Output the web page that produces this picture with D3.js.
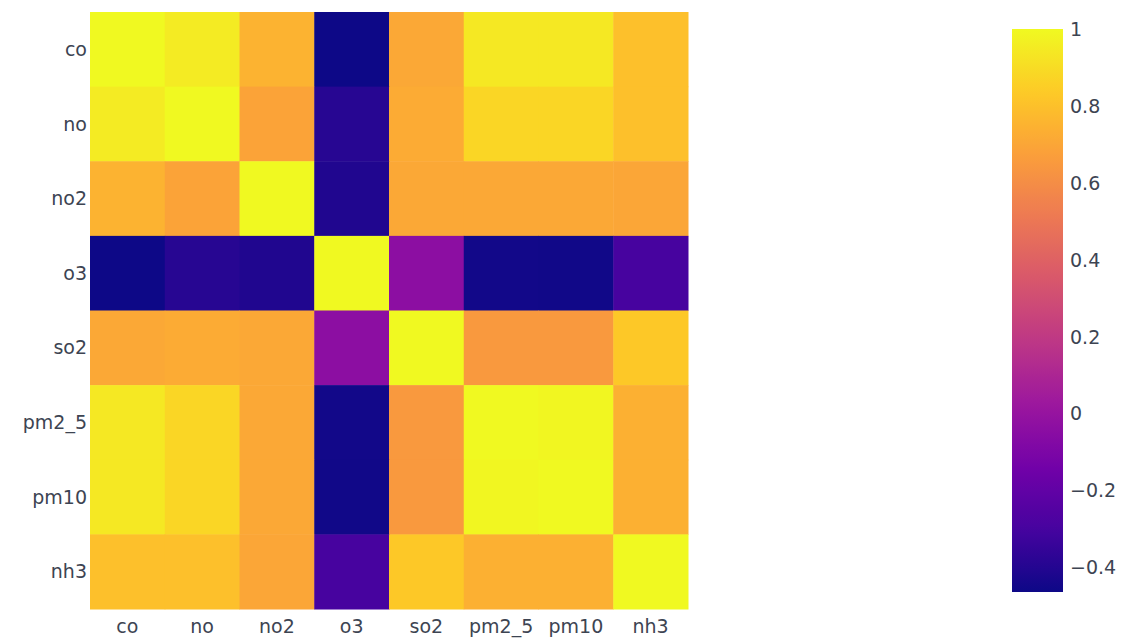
<!DOCTYPE html>
<html>
<head>
<meta charset="utf-8">
<script src="https://cdn.jsdelivr.net/npm/d3@7"></script>
<style>
  html, body { margin: 0; padding: 0; background: #fff; }
  svg { display: block; }
  text { font-family: "DejaVu Sans", Verdana, sans-serif; fill: #3d4452; }
</style>
</head>
<body>
<svg id="chart" width="1135" height="639"></svg>
<script>
// ---- data ----
const variables = ["co", "no", "no2", "o3", "so2", "pm2_5", "pm10", "nh3"];
const rowCo   = [1.00, 0.95, 0.75, -0.465, 0.71, 0.94, 0.94, 0.80];
const rowNo   = [0.95, 1.00, 0.69, -0.39, 0.72, 0.88, 0.88, 0.80];
const rowNo2  = [0.75, 0.69, 1.00, -0.41, 0.71, 0.71, 0.71, 0.70];
const rowO3   = [-0.465, -0.39, -0.41, 1.00, -0.04, -0.45, -0.455, -0.30];
const rowSo2  = [0.71, 0.72, 0.71, -0.04, 1.00, 0.65, 0.65, 0.83];
const rowPm25 = [0.94, 0.88, 0.71, -0.45, 0.65, 1.00, 0.99, 0.74];
const rowPm10 = [0.94, 0.88, 0.71, -0.455, 0.65, 0.99, 1.00, 0.74];
const rowNh3  = [0.80, 0.80, 0.70, -0.30, 0.83, 0.74, 0.74, 1.00];
const matrix = [rowCo, rowNo, rowNo2, rowO3, rowSo2, rowPm25, rowPm10, rowNh3];
const colorbarTicks = [-0.4, -0.2, 0, 0.2, 0.4, 0.6, 0.8, 1];
const zMin = -0.465, zMax = 1.0;

// Plotly "Plasma" colorscale
const plasmaStops = ["#0d0887", "#46039f", "#7201a8", "#9c179e", "#bd3786",
                     "#d8576b", "#ed7953", "#fb9f3a", "#fdca26", "#f0f921"];

// ---- layout ----
const svg = d3.select("#chart");
const plot = { left: 90, top: 12, right: 688, bottom: 609 };
const cbar = { left: 1012, right: 1063, top: 29, bottom: 592 };

const interp = d3.piecewise(d3.interpolateRgb, plasmaStops);
const color = d3.scaleSequential(interp).domain([zMin, zMax]);

const x = d3.scaleBand().domain(variables).range([plot.left, plot.right]).padding(0);
const y = d3.scaleBand().domain(variables).range([plot.top, plot.bottom]).padding(0);

const cells = [];
matrix.forEach((row, i) => row.forEach((v, j) => cells.push({ r: variables[i], c: variables[j], v })));

svg.append("g").selectAll("rect").data(cells).join("rect")
  .attr("x", d => x(d.c))
  .attr("y", d => y(d.r))
  .attr("width", x.bandwidth() + 0.5)
  .attr("height", y.bandwidth() + 0.5)
  .attr("fill", d => color(d.v));

const fmt = v => (v < 0 ? "\u2212" : "") + d3.format("")(Math.abs(v));

// x axis
const xAxis = svg.append("g").attr("transform", `translate(0,${plot.bottom})`)
  .call(d3.axisBottom(x).tickSize(0).tickPadding(0));
xAxis.select(".domain").remove();
xAxis.selectAll("text").attr("y", 23.5).attr("dy", 0)
  .style("font-size", "19px").attr("fill", "#3d4452");

// y axis
const yAxis = svg.append("g").attr("transform", `translate(${plot.left},0)`)
  .call(d3.axisLeft(y).tickSize(0).tickPadding(3));
yAxis.select(".domain").remove();
yAxis.selectAll("text").attr("dy", "0.35em")
  .style("font-size", "19px").attr("fill", "#3d4452");

// colorbar
const cy = d3.scaleLinear().domain([zMin, zMax]).range([cbar.bottom, cbar.top]);
const defs = svg.append("defs");
const grad = defs.append("linearGradient").attr("id", "cbgrad")
  .attr("x1", 0).attr("y1", 1).attr("x2", 0).attr("y2", 0);
d3.range(0, 1.0001, 0.02).forEach(t => {
  grad.append("stop").attr("offset", t).attr("stop-color", color(zMin + t * (zMax - zMin)));
});
svg.append("rect")
  .attr("x", cbar.left).attr("y", cbar.top)
  .attr("width", cbar.right - cbar.left).attr("height", cbar.bottom - cbar.top)
  .attr("fill", "url(#cbgrad)");

const cAxis = svg.append("g").attr("transform", `translate(${cbar.right},0)`)
  .call(d3.axisRight(cy).tickValues(colorbarTicks).tickFormat(fmt).tickSize(0).tickPadding(7));
cAxis.select(".domain").remove();
cAxis.selectAll("text").attr("dy", "0.35em")
  .style("font-size", "19px").attr("fill", "#3d4452");
</script>
</body>
</html>
